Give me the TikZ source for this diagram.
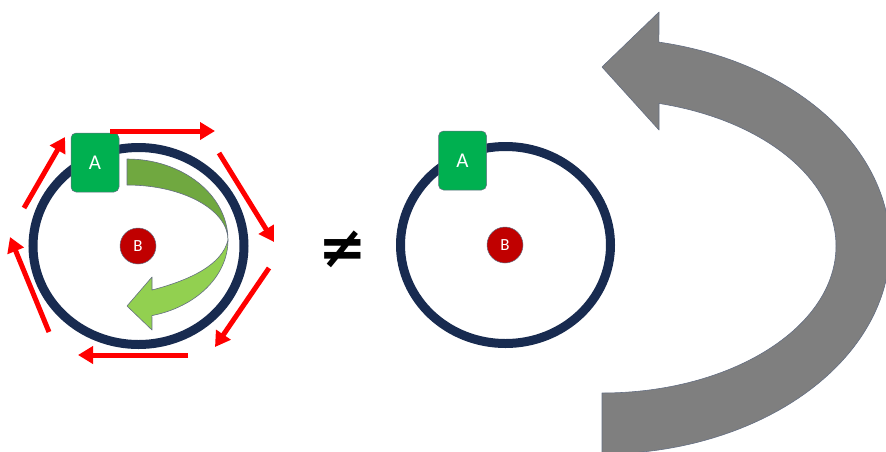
\documentclass[tikz,border=0pt]{standalone}
\usepackage{fontspec}
\setmainfont{Carlito}
\newfontfamily\symfont{DejaVu Sans}
\usetikzlibrary{arrows.meta}
\definecolor{ringblue}{RGB}{24,43,80}
\definecolor{boxgreen}{RGB}{0,176,80}
\definecolor{ballred}{RGB}{192,0,0}
\definecolor{darkleaf}{RGB}{112,168,64}
\definecolor{lightleaf}{RGB}{146,208,80}
\definecolor{arrowgray}{RGB}{127,127,127}
\definecolor{edgegray}{RGB}{100,110,130}
\tikzset{
  ring/.style={draw=ringblue, line width=9pt},
  abox/.style={draw=edgegray, line width=0.5pt, fill=boxgreen, rounded corners=5pt,
    minimum width=48pt, minimum height=59pt, inner sep=0pt, text=white, font=\fontsize{21}{21}\selectfont},
  bball/.style={circle, draw=edgegray, line width=0.5pt, fill=ballred, minimum size=36pt, inner sep=0pt,
    text=white, font=\fontsize{17}{17}\selectfont},
  redarrow/.style={draw=red, line width=5pt, -{Triangle[length=15pt, width=17pt]}},
  shapeedge/.style={draw=edgegray, line width=0.6pt, line join=round}
}
\begin{document}
\begin{tikzpicture}[x=1pt, y=-1pt]
\useasboundingbox (0,0) rectangle (886,451);
\clip (0,0) rectangle (886,451);

% gray curved arrow
\draw[shapeedge, fill=arrowgray]
  (602,246) ++(-78.6:288 and 208)
  arc[start angle=-78.6, end angle=90, x radius=288, y radius=208]
  -- (602,393)
  arc[start angle=90, end angle=-75.9, x radius=234, y radius=147]
  -- (659,130) -- (602,67) -- (659,12) -- cycle;

% left ring
\draw[ring] (138.5,246) ellipse [x radius=105.5, y radius=98.5];
% green curved arrow (back part)
\draw[shapeedge, fill=darkleaf]
  (127,159) arc[start angle=-90, end angle=0, x radius=101, y radius=81]
  arc[start angle=0, end angle=-90, x radius=101, y radius=55] -- cycle;
% green curved arrow (front part)
\draw[shapeedge, fill=lightleaf]
  (228,240) arc[start angle=0, end angle=75.7, x radius=101, y radius=78]
  -- (152,330) -- (127,306) -- (152,277) -- (152,290)
  .. controls (190,280) and (222,265) .. (228,240) -- cycle;

\node[bball] (B1) at (138,246) {B};
\node[abox] (A1) at (95,162.5) {A};

% red arrows around
\coordinate (r1s) at (110,131); \coordinate (r1e) at (215,131);
\coordinate (r2s) at (219,153); \coordinate (r2e) at (274,242);
\coordinate (r3s) at (269,268); \coordinate (r3e) at (215,347);
\coordinate (r4s) at (188,355); \coordinate (r4e) at (78,355);
\coordinate (r5s) at (49,332);  \coordinate (r5e) at (10,237);
\coordinate (r6s) at (24,208);  \coordinate (r6e) at (65,137);
\draw[redarrow] (r1s) -- (r1e);
\draw[redarrow] (r2s) -- (r2e);
\draw[redarrow] (r3s) -- (r3e);
\draw[redarrow] (r4s) -- (r4e);
\draw[redarrow] (r5s) -- (r5e);
\draw[redarrow] (r6s) -- (r6e);

% not equal sign
\node[font=\symfont\bfseries\fontsize{58}{58}\selectfont, inner sep=0pt] (neq) at (343,249) {≠};

% middle ring
\draw[ring] (505.5,245) ellipse [x radius=105, y radius=98.5];
\node[bball] (B2) at (505,245) {B};
\node[abox] (A2) at (462.5,160.5) {A};
\end{tikzpicture}
\end{document}
